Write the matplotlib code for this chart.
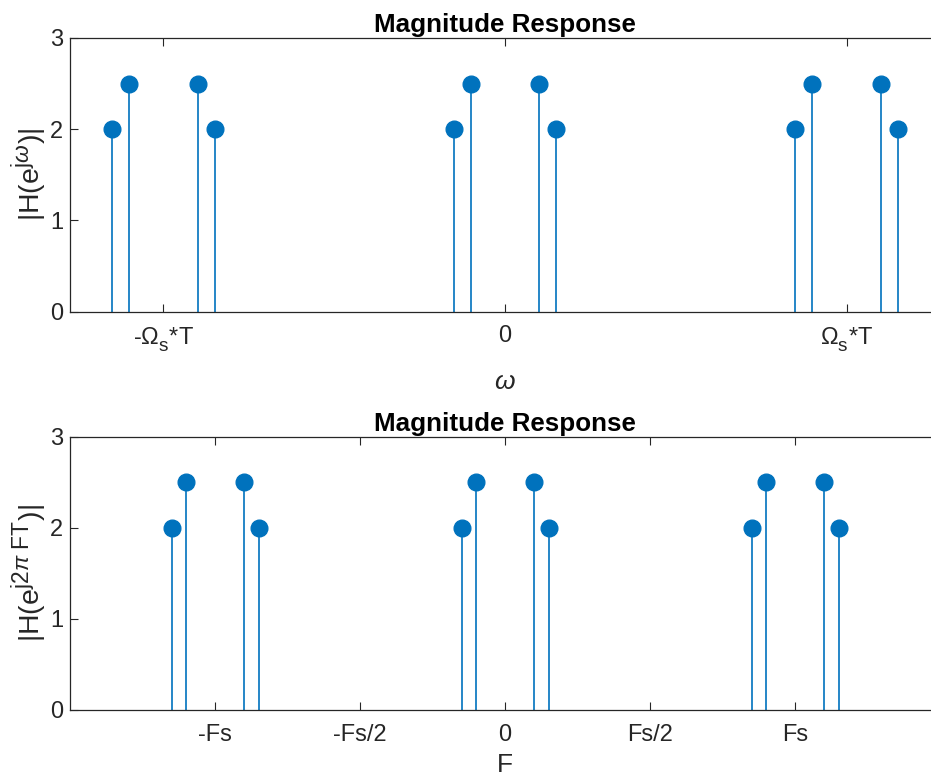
import numpy as np
import matplotlib
matplotlib.use("Agg")
import matplotlib.pyplot as plt

plt.rcParams['font.family'] = ['Liberation Sans', 'DejaVu Sans']
plt.rcParams['mathtext.fontset'] = 'custom'
plt.rcParams['mathtext.rm'] = 'Liberation Sans'
plt.rcParams['mathtext.it'] = 'Liberation Sans:italic'
plt.rcParams['mathtext.bf'] = 'Liberation Sans:bold'

# Larger, lower sub/superscripts for the tick and axis labels
try:
    from matplotlib import _mathtext
    _mathtext.SHRINK_FACTOR = 0.8
    _mathtext.FontConstantsBase.sub1 = 0.55
except Exception:
    pass

# Digital frequency samples (in units of pi rad/sample) and their magnitudes
omega_over_pi = [-2.3, -2.2, -1.8, -1.7, -0.3, -0.2, 0.2, 0.3, 1.7, 1.8, 2.2, 2.3]
magnitude_w = [2, 2.5, 2.5, 2, 2, 2.5, 2.5, 2, 2, 2.5, 2.5, 2]

# Analog frequency samples (in units of Fs) and their magnitudes
freq_over_fs = [-1.15, -1.1, -0.9, -0.85, -0.15, -0.1, 0.1, 0.15, 0.85, 0.9, 1.1, 1.15]
magnitude_f = [2, 2.5, 2.5, 2, 2, 2.5, 2.5, 2, 2, 2.5, 2.5, 2]

w_ticks = [-2 * np.pi, 0, 2 * np.pi]
w_ticklabels = [r'-$\Omega_\mathrm{s}$*T', '0', r'$\Omega_\mathrm{s}$*T']
f_ticks = [-1, -0.5, 0, 0.5, 1]
f_ticklabels = ['-Fs', '-Fs/2', '0', 'Fs/2', 'Fs']
y_ticks = [0, 1, 2, 3]

BLUE = '#0072BD'
DARK = '#262626'
W, H = 931, 776

fig = plt.figure(figsize=(W / 100, H / 100), dpi=100)
ax1 = fig.add_axes([70 / W, 1 - 311.5 / H, 870 / W, 273.5 / H])
ax2 = fig.add_axes([70 / W, 1 - 710 / H, 870 / W, 273.5 / H])


def stem_plot(ax, x, y):
    for xi, yi in zip(x, y):
        ax.plot([xi, xi], [0, yi], color=BLUE, lw=1.2, solid_capstyle='butt', zorder=2)
    ax.plot(x, y, 'o', color=BLUE, ms=12, mec=BLUE, zorder=3)


def style(ax):
    ax.set_ylim(0, 3)
    ax.set_yticks(y_ticks)
    ax.tick_params(direction='in', length=6, width=0.8, colors=DARK,
                   labelsize=17, top=True, right=True)
    ax.tick_params(axis='x', pad=10)
    ax.tick_params(axis='y', pad=5)
    for s in ax.spines.values():
        s.set_color(DARK)
        s.set_linewidth(0.9)


w = np.array(omega_over_pi) * np.pi
stem_plot(ax1, w, magnitude_w)
ax1.set_xlim(-8, 8)
ax1.set_xticks(w_ticks)
ax1.set_xticklabels(w_ticklabels)
style(ax1)
ax1.set_title('Magnitude Response', fontsize=18.7, fontweight='bold', color='black', pad=4)
ax1.set_xlabel(r'$\omega$', fontsize=19, color=DARK, labelpad=12)
ax1.set_ylabel(r'|H(e$^{\mathrm{j}\omega}$)|', fontsize=20.5, color=DARK, labelpad=0)

stem_plot(ax2, freq_over_fs, magnitude_f)
ax2.set_xlim(-1.5, 1.5)
ax2.set_xticks(f_ticks)
ax2.set_xticklabels(f_ticklabels)
style(ax2)
ax2.set_title('Magnitude Response', fontsize=18.7, fontweight='bold', color='black', pad=4)
ax2.set_xlabel('F', fontsize=19, color=DARK, labelpad=5)
ax2.set_ylabel(r'|H(e$^{\mathrm{j2}\pi\ \mathrm{FT}}$)|', fontsize=20.5, color=DARK, labelpad=0)

fig.savefig('out.png', dpi=100)
